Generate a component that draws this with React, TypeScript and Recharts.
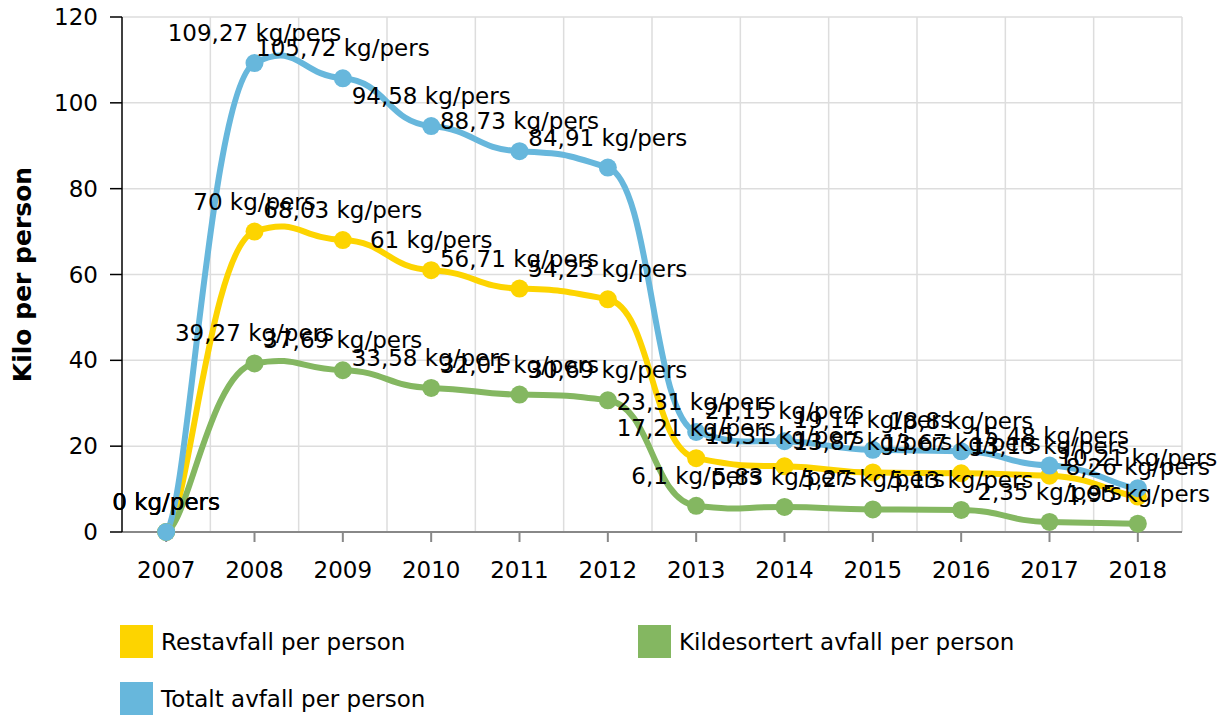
import React from 'react';
import { LineChart, Line, XAxis, YAxis, CartesianGrid, Legend, LabelList } from 'recharts';

document.body.style.margin = '0';

const years = ['2007', '2008', '2009', '2010', '2011', '2012', '2013', '2014', '2015', '2016', '2017', '2018'];
const restavfall = [0, 70, 68.03, 61, 56.71, 54.23, 17.21, 15.31, 13.87, 13.67, 13.13, 8.26];
const kildesortert = [0, 39.27, 37.69, 33.58, 32.01, 30.69, 6.1, 5.83, 5.27, 5.13, 2.35, 1.95];
const totalt = [0, 109.27, 105.72, 94.58, 88.73, 84.91, 23.31, 21.15, 19.14, 18.8, 15.48, 10.21];
const yTicks = [0, 20, 40, 60, 80, 100, 120];

const series = [
  { key: 'rest', name: 'Restavfall per person', color: '#fdd400' },
  { key: 'kilde', name: 'Kildesortert avfall per person', color: '#84b761' },
  { key: 'total', name: 'Totalt avfall per person', color: '#67b7dc' },
];

const data = years.map((year, i) => ({
  year,
  rest: restavfall[i],
  kilde: kildesortert[i],
  total: totalt[i],
}));

const FONT = '"DejaVu Sans", Verdana, sans-serif';

// bezier smoothing with separate x / y tension (wide in x, tight in y)
const smoothCurve = (context: any) => {
  let pts: number[][] = [];
  const bx = 4;
  const by = 20;
  return {
    areaStart() {},
    areaEnd() {},
    lineStart() {
      pts = [];
    },
    point(x: number, y: number) {
      pts.push([+x, +y]);
    },
    lineEnd() {
      if (!pts.length) return;
      context.moveTo(pts[0][0], pts[0][1]);
      for (let i = 0; i < pts.length - 1; i++) {
        const p0 = pts[i - 1] || pts[i];
        const p1 = pts[i];
        const p2 = pts[i + 1];
        const p3 = pts[i + 2] || p2;
        context.bezierCurveTo(
          p1[0] + (p2[0] - p0[0]) / bx,
          p1[1] + (p2[1] - p0[1]) / by,
          p2[0] - (p3[0] - p1[0]) / bx,
          p2[1] - (p3[1] - p1[1]) / by,
          p2[0],
          p2[1]
        );
      }
    },
  };
};

const fmt = (v: any) => `${String(v).replace('.', ',')} kg/pers`;

const renderLegend = () => {
  const pos = [
    { left: 120, top: 35 },
    { left: 638, top: 35 },
    { left: 120, top: 92 },
  ];
  return (
    <div style={{ position: 'relative', height: 125, fontFamily: FONT, fontSize: 23, color: '#000' }}>
      {series.map((s, i) => (
        <div key={s.key} style={{ position: 'absolute', left: pos[i].left, top: pos[i].top, display: 'flex', alignItems: 'center' }}>
          <span style={{ width: 33, height: 33, background: s.color, display: 'inline-block', marginRight: 8 }} />
          <span>{s.name}</span>
        </div>
      ))}
    </div>
  );
};

export default function App() {
  return (
    <LineChart width={1228} height={715} data={data} margin={{ top: 17, right: 46, left: 0, bottom: 0 }}>
      <CartesianGrid
        stroke="#dddddd"
        strokeWidth={1.5}
        verticalCoordinatesGenerator={({ offset }: any) =>
          years.map((_, i) => offset.left + (offset.width * (i + 1)) / years.length)
        }
      />
      <XAxis
        dataKey="year"
        scale="band"
        height={58}
        tickSize={10}
        tickMargin={20}
        stroke="#888"
        strokeWidth={2}
        tick={{ fill: '#000', fontSize: 23, fontFamily: FONT }}
      />
      <YAxis
        width={122}
        domain={[0, 120]}
        ticks={yTicks}
        tickSize={12}
        tickMargin={12}
        stroke="#000"
        strokeWidth={1.5}
        tick={{ fill: '#000', fontSize: 23, fontFamily: FONT }}
        label={{
          value: 'Kilo per person',
          angle: -90,
          position: 'insideLeft',
          offset: 22,
          style: { textAnchor: 'middle', fontFamily: FONT, fontSize: 25, fontWeight: 'bold', fill: '#000' },
        }}
      />
      <Legend verticalAlign="bottom" content={renderLegend} />
      {series.map((s) => (
        <Line
          key={s.key}
          dataKey={s.key}
          name={s.name}
          type={smoothCurve as any}
          stroke={s.color}
          strokeWidth={6}
          dot={{ r: 9, fill: s.color, stroke: s.color, strokeWidth: 0 }}
          activeDot={false}
          isAnimationActive={false}
        >
          <LabelList
            dataKey={s.key}
            position="top"
            offset={22}
            formatter={fmt}
            style={{ fontFamily: FONT, fontSize: 23, fill: '#000' }}
          />
        </Line>
      ))}
    </LineChart>
  );
}
